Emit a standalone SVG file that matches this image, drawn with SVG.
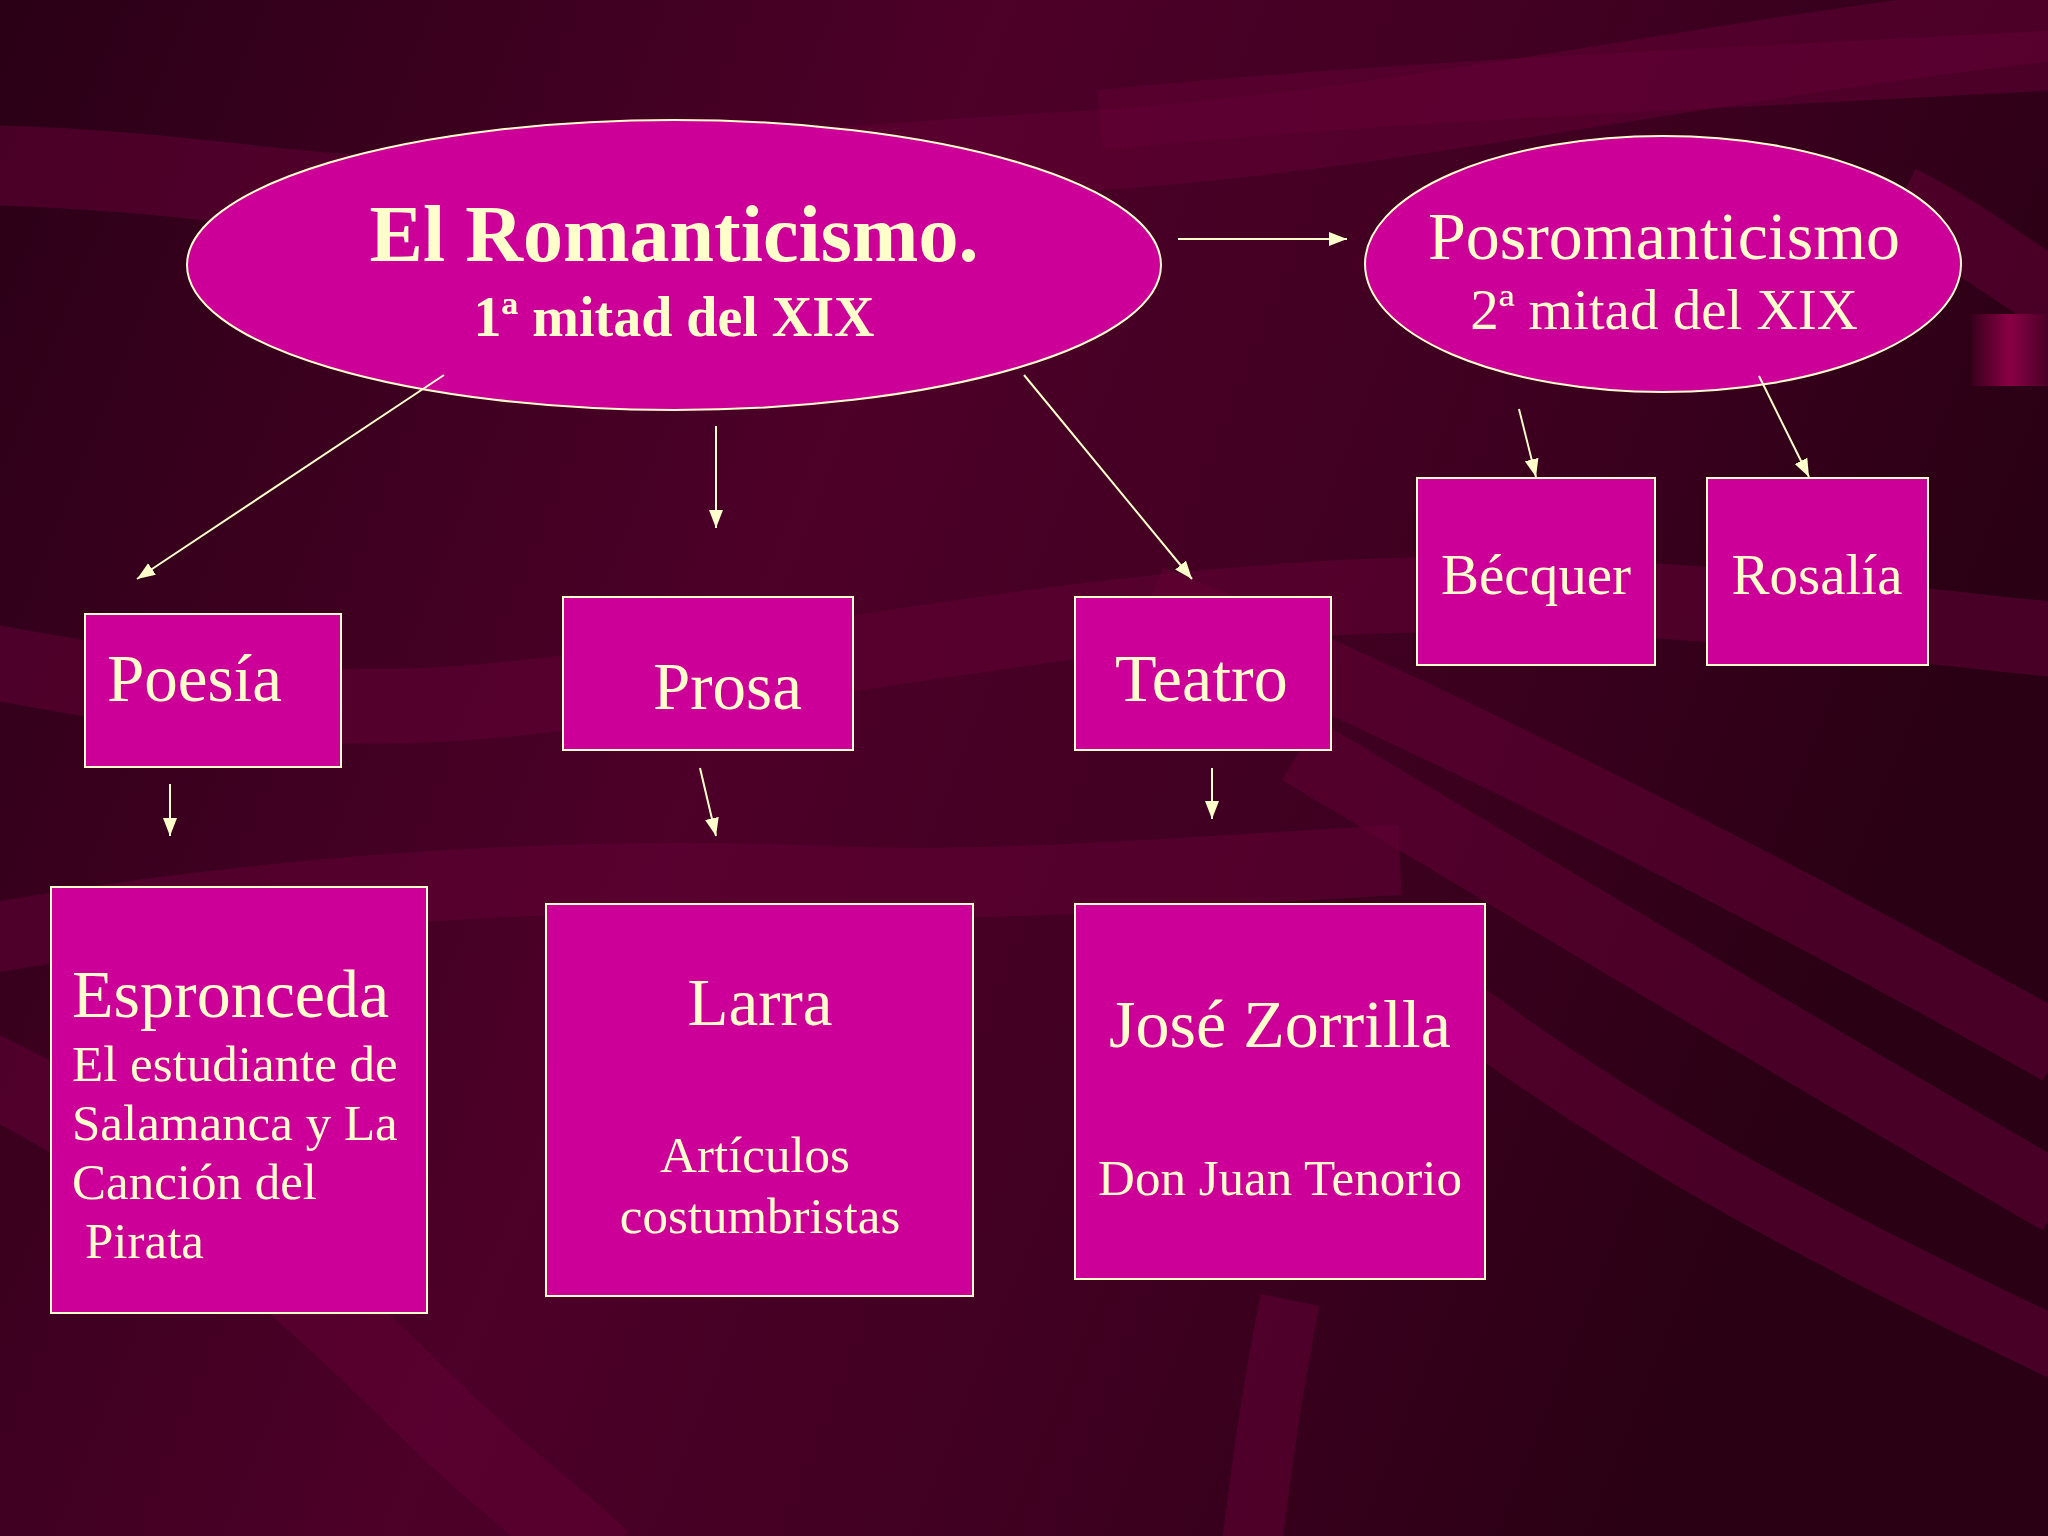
<svg xmlns="http://www.w3.org/2000/svg" width="2048" height="1536" viewBox="0 0 2048 1536">
<defs>
<linearGradient id="bg" x1="0" y1="0" x2="1" y2="0.3">
<stop offset="0" stop-color="#2a0016"/>
<stop offset="0.45" stop-color="#4d0028"/>
<stop offset="0.75" stop-color="#3e0020"/>
<stop offset="1" stop-color="#2a0014"/>
</linearGradient>
<linearGradient id="rib" x1="0" y1="0" x2="1" y2="0">
<stop offset="0" stop-color="#3a001e"/>
<stop offset="0.5" stop-color="#8a0045"/>
<stop offset="1" stop-color="#4a0026"/>
</linearGradient>
<marker id="ah" markerUnits="userSpaceOnUse" markerWidth="20" markerHeight="16" refX="18" refY="7" orient="auto">
<path d="M0,0 L18,7 L0,14 z" fill="#ffffcc"/>
</marker>
<style>
.shape{fill:#cc0099;stroke:#ffffcc;stroke-width:2}
.t{font-family:"Liberation Serif","Times New Roman",serif;fill:#ffffcc}
.c{text-anchor:middle}
.conn{stroke:#ffffcc;stroke-width:2;fill:none;marker-end:url(#ah)}
.band{fill:none;stroke:#620034;stroke-opacity:0.55}
</style>
</defs>
<g id="background">
<rect width="2048" height="1536" fill="url(#bg)"/>
<path class="band" stroke-width="80" d="M-20,165 C200,170 300,200 420,195 C700,180 900,160 1100,150 C1400,130 1700,60 2060,20"/>
<path class="band" stroke-width="60" d="M1100,120 C1400,90 1700,80 2060,60"/>
<path class="band" stroke-width="70" d="M1900,200 C1960,230 2010,270 2060,300"/>
<path class="band" stroke-width="75" d="M-20,660 C150,690 300,720 500,700 C800,670 1000,620 1300,600 C1600,580 1850,620 2060,640"/>
<path class="band" stroke-width="70" d="M1150,600 C1400,700 1700,850 2060,1050"/>
<path class="band" stroke-width="70" d="M1300,750 C1550,900 1800,1050 2060,1200"/>
<path class="band" stroke-width="60" d="M1450,1000 C1650,1150 1850,1250 2060,1350"/>
<path class="band" stroke-width="80" d="M-20,1070 C150,1150 300,1280 420,1400 C500,1480 560,1520 600,1560"/>
<path class="band" stroke-width="70" d="M-20,940 C200,900 500,870 800,880 C1000,890 1200,870 1400,860"/>
<path class="band" stroke-width="60" d="M1290,1300 C1270,1400 1260,1480 1250,1560"/>
<rect x="1972" y="314" width="76" height="72" fill="url(#rib)"/>
</g>
<g id="romanticismo">
<ellipse class="shape" cx="674" cy="265" rx="487" ry="145"/>
<text class="t c" x="674" y="261" font-size="80" font-weight="bold">El Romanticismo.</text>
<text class="t c" x="674" y="336" font-size="56" font-weight="bold">1ª mitad del XIX</text>
</g>
<g id="posromanticismo">
<ellipse class="shape" cx="1663" cy="264" rx="298" ry="128"/>
<text class="t c" x="1664" y="259" font-size="68">Posromanticismo</text>
<text class="t c" x="1664" y="329" font-size="57">2ª mitad del XIX</text>
</g>
<g id="poesia">
<rect class="shape" x="85" y="614" width="256" height="153"/>
<text class="t" x="107" y="701" font-size="67">Poesía</text>
</g>
<g id="prosa">
<rect class="shape" x="563" y="597" width="290" height="153"/>
<text class="t" x="653" y="709" font-size="67">Prosa</text>
</g>
<g id="teatro">
<rect class="shape" x="1075" y="597" width="256" height="153"/>
<text class="t" x="1115" y="701" font-size="68">Teatro</text>
</g>
<g id="becquer">
<rect class="shape" x="1417" y="478" width="238" height="187"/>
<text class="t c" x="1536" y="594" font-size="57">Bécquer</text>
</g>
<g id="rosalia">
<rect class="shape" x="1707" y="478" width="221" height="187"/>
<text class="t c" x="1817" y="594" font-size="57">Rosalía</text>
</g>
<g id="espronceda">
<rect class="shape" x="51" y="887" width="376" height="426"/>
<text class="t" x="72" y="1017" font-size="68">Espronceda</text>
<text class="t" x="72" y="1081" font-size="51">El estudiante de</text>
<text class="t" x="72" y="1140" font-size="51">Salamanca y La</text>
<text class="t" x="72" y="1199" font-size="51">Canción del</text>
<text class="t" x="85" y="1258" font-size="51">Pirata</text>
</g>
<g id="larra">
<rect class="shape" x="546" y="904" width="427" height="392"/>
<text class="t c" x="760" y="1025" font-size="67">Larra</text>
<text class="t c" x="755" y="1172" font-size="51">Artículos</text>
<text class="t c" x="760" y="1233" font-size="51">costumbristas</text>
</g>
<g id="zorrilla">
<rect class="shape" x="1075" y="904" width="410" height="375"/>
<text class="t c" x="1280" y="1047" font-size="68">José Zorrilla</text>
<text class="t c" x="1280" y="1195" font-size="51">Don Juan Tenorio</text>
</g>
<g id="connectors">
<line class="conn" x1="444" y1="375" x2="137" y2="579"/>
<line class="conn" x1="716" y1="426" x2="716" y2="528"/>
<line class="conn" x1="1024" y1="375" x2="1192" y2="579"/>
<line class="conn" x1="1178" y1="239" x2="1347" y2="239"/>
<line class="conn" x1="1519" y1="409" x2="1536" y2="477"/>
<line class="conn" x1="1759" y1="376" x2="1809" y2="477"/>
<line class="conn" x1="170" y1="784" x2="170" y2="836"/>
<line class="conn" x1="700" y1="768" x2="716" y2="836"/>
<line class="conn" x1="1212" y1="768" x2="1212" y2="819"/>
</g>
</svg>
